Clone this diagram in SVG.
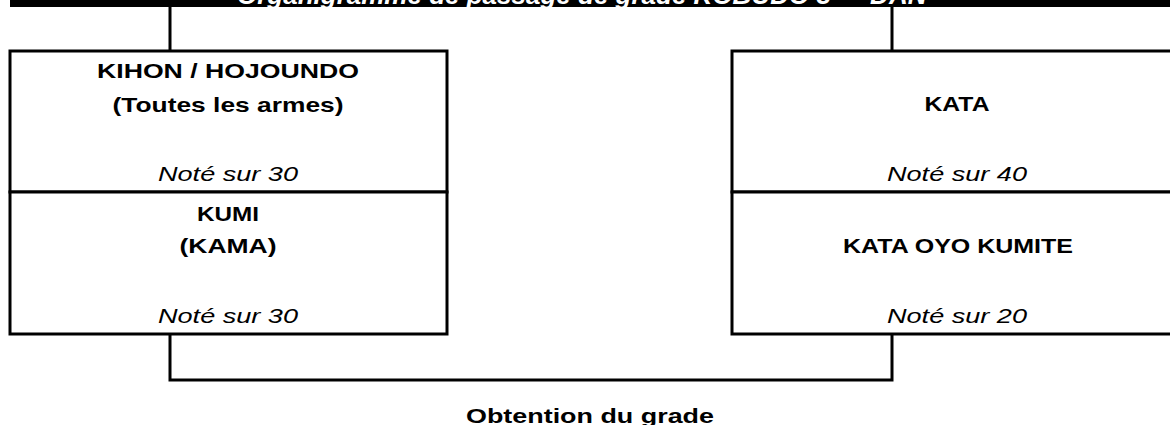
<svg xmlns="http://www.w3.org/2000/svg" width="1170" height="425" viewBox="0 0 1170 425">
<style>
.box{fill:#fff;stroke:#000;stroke-width:3}
.conn{fill:none;stroke:#000;stroke-width:3}
.b{font-family:"Liberation Sans",Arial,sans-serif;font-weight:bold;font-size:21px;fill:#000;text-anchor:middle}
.i{font-family:"Liberation Sans",Arial,sans-serif;font-style:italic;font-size:21px;fill:#000;text-anchor:middle}
.t{font-family:"Liberation Sans",Arial,sans-serif;font-weight:bold;font-style:italic;font-size:26px;fill:#fff}
</style>
<g id="title">
<rect x="10" y="-2" width="1162" height="9" fill="#000"/>
<text class="t" x="237" y="4">Organigramme de passage de grade KOBUDO 3<tspan font-size="16" dy="-10">ème</tspan><tspan dy="10"> DAN</tspan></text>
</g>
<g id="connectors">
<path class="conn" d="M170 7V51M892 7V51"/>
<path class="conn" d="M170 335V380H892V335"/>
</g>
<g id="kihon">
<rect class="box" x="10" y="51" width="437" height="141"/>
<text class="b" x="228" y="78" textLength="262" lengthAdjust="spacingAndGlyphs">KIHON / HOJOUNDO</text>
<text class="b" x="228" y="112" textLength="231" lengthAdjust="spacingAndGlyphs">(Toutes les armes)</text>
<text class="i" x="228" y="181" textLength="140" lengthAdjust="spacingAndGlyphs">Noté sur 30</text>
</g>
<g id="kumi">
<rect class="box" x="10" y="192" width="437" height="142"/>
<text class="b" x="228" y="221" textLength="62" lengthAdjust="spacingAndGlyphs">KUMI</text>
<text class="b" x="228" y="253" textLength="97" lengthAdjust="spacingAndGlyphs">(KAMA)</text>
<text class="i" x="228" y="323" textLength="140" lengthAdjust="spacingAndGlyphs">Noté sur 30</text>
</g>
<g id="kata">
<rect class="box" x="732" y="51" width="452" height="141"/>
<text class="b" x="957" y="111" textLength="65" lengthAdjust="spacingAndGlyphs">KATA</text>
<text class="i" x="957" y="181" textLength="140" lengthAdjust="spacingAndGlyphs">Noté sur 40</text>
</g>
<g id="kata-oyo">
<rect class="box" x="732" y="192" width="452" height="142"/>
<text class="b" x="958" y="253" textLength="230" lengthAdjust="spacingAndGlyphs">KATA OYO KUMITE</text>
<text class="i" x="957" y="323" textLength="140" lengthAdjust="spacingAndGlyphs">Noté sur 20</text>
</g>
<g id="result">
<text class="b" x="590" y="423" textLength="248" lengthAdjust="spacingAndGlyphs">Obtention du grade</text>
</g>
</svg>
